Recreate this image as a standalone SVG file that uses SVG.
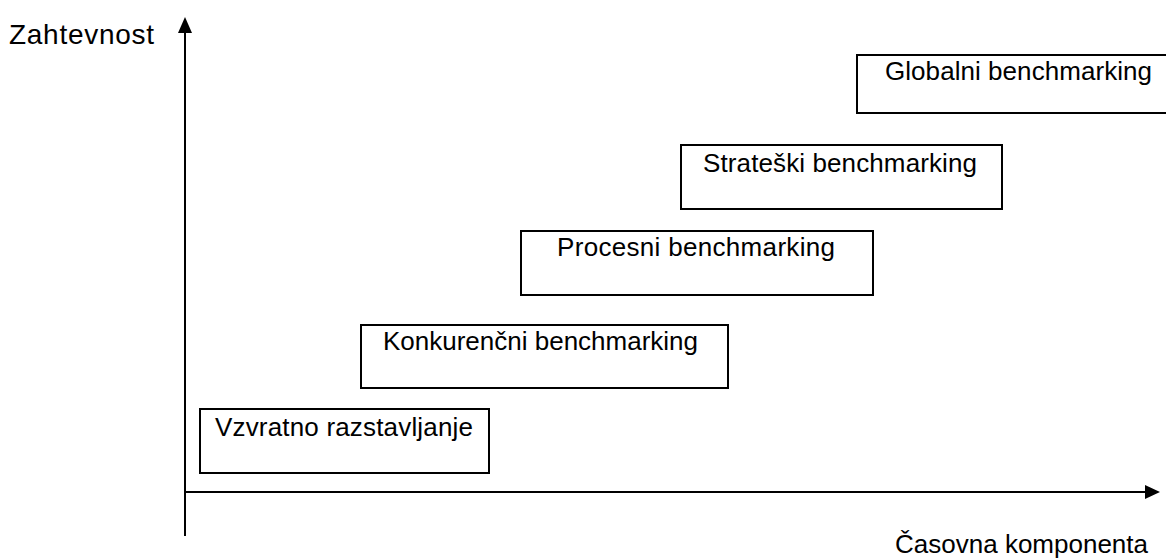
<svg xmlns="http://www.w3.org/2000/svg" width="1166" height="558" viewBox="0 0 1166 558">
  <style>
    .box { fill: #ffffff; stroke: #000000; stroke-width: 2; }
    .lbl { font-family: "Liberation Sans", Arial, sans-serif; font-size: 26px; fill: #000000; }
    .axis-lbl { font-family: "Liberation Sans", Arial, sans-serif; font-size: 28px; fill: #000000; }
    .axis { stroke: #000000; stroke-width: 2; fill: none; }
    .head { fill: #000000; }
  </style>
  <rect width="1166" height="558" fill="#ffffff"/>

  <!-- axes with filled arrowheads -->
  <g id="connectors">
    <line class="axis" x1="185" y1="536" x2="185" y2="30"/>
    <line class="axis" x1="185" y1="492" x2="1147" y2="492"/>
    <path class="head" d="M185,17 L178,33 L192,33 Z"/>
    <path class="head" d="M1160,492 L1145,485 L1145,499 Z"/>
  </g>

  <!-- axis labels -->
  <g id="label-y">
    <text class="axis-lbl" x="9" y="44" textLength="145" lengthAdjust="spacing">Zahtevnost</text>
  </g>
  <g id="label-x">
    <text class="lbl" x="1148" y="553" text-anchor="end">Časovna komponenta</text>
  </g>

  <!-- stages, rising left to right -->
  <g id="vzvratno">
    <rect class="box" x="200" y="409" width="289" height="64"/>
    <text class="lbl" x="215" y="436" textLength="258" lengthAdjust="spacing">Vzvratno razstavljanje</text>
  </g>
  <g id="konkurencni">
    <rect class="box" x="361" y="325" width="367" height="63"/>
    <text class="lbl" x="383" y="350" textLength="315" lengthAdjust="spacing">Konkurenčni benchmarking</text>
  </g>
  <g id="procesni">
    <rect class="box" x="521" y="231" width="352" height="64"/>
    <text class="lbl" x="557" y="256" textLength="278" lengthAdjust="spacing">Procesni benchmarking</text>
  </g>
  <g id="strateski">
    <rect class="box" x="681" y="145" width="321" height="64"/>
    <text class="lbl" x="703" y="172" textLength="274" lengthAdjust="spacing">Strateški benchmarking</text>
  </g>
  <g id="globalni">
    <rect class="box" x="857" y="55" width="320" height="58"/>
    <text class="lbl" x="885" y="80" textLength="267" lengthAdjust="spacing">Globalni benchmarking</text>
  </g>
</svg>
